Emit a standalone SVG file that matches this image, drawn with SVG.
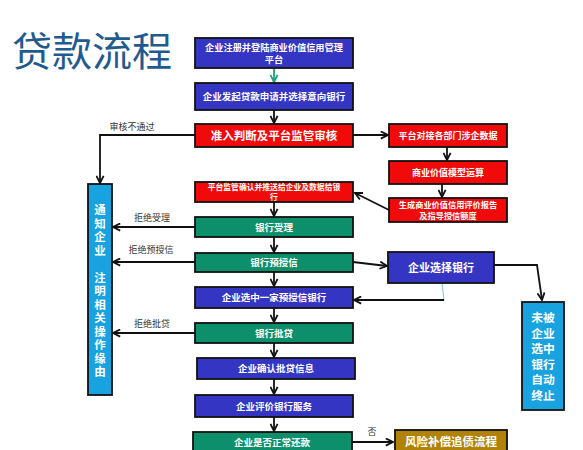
<svg xmlns="http://www.w3.org/2000/svg" width="583" height="450" viewBox="0 0 583 450">
<defs>
<style>
.box{stroke:#111;stroke-width:1.8}
.blue{fill:#3535c4}
.red{fill:#f00a0a}
.green{fill:#0e8f6c}
.sky{fill:#18a3e0}
.brown{fill:#b08208}
.t{font-family:"Noto Sans CJK SC","Noto Sans",sans-serif;font-weight:bold;fill:#fff;text-anchor:middle}
.lbl{font-family:"Noto Sans CJK SC","Noto Sans",sans-serif;fill:#333;font-size:9px;text-anchor:middle}
.ln{stroke:#111;stroke-width:1.8;fill:none}
</style>
<marker id="ah" viewBox="0 0 10 10" refX="9" refY="5" markerWidth="5" markerHeight="5" orient="auto" markerUnits="strokeWidth">
<path d="M1,1 L9,5 L1,9" fill="none" stroke="#111" stroke-width="2"/>
</marker>
<marker id="ahg" viewBox="0 0 10 10" refX="9" refY="5" markerWidth="5" markerHeight="5" orient="auto" markerUnits="strokeWidth">
<path d="M1,1 L9,5 L1,9" fill="none" stroke="#1aa37a" stroke-width="2"/>
</marker>
</defs>
<rect width="583" height="450" fill="#fff"/>
<text x="92" y="66" font-family="Noto Sans CJK SC,sans-serif" font-size="40" fill="#1f5b8f" text-anchor="middle">贷款流程</text>

<g id="connectors">
<line x1="274" y1="68" x2="274" y2="82" stroke="#1aa37a" stroke-width="1.8" marker-end="url(#ahg)"/>
<line class="ln" x1="274" y1="110" x2="274" y2="123" marker-end="url(#ah)"/>
<polyline class="ln" points="195,135 100,135 100,183" marker-end="url(#ah)"/>
<line class="ln" x1="353" y1="135" x2="388" y2="135" marker-end="url(#ah)"/>
<line class="ln" x1="447" y1="147" x2="447" y2="160" marker-end="url(#ah)"/>
<line class="ln" x1="442" y1="184" x2="442" y2="197" marker-end="url(#ah)"/>
<line class="ln" x1="389" y1="210" x2="355" y2="193" marker-end="url(#ah)"/>
<line class="ln" x1="274" y1="202" x2="274" y2="216" marker-end="url(#ah)"/>
<line class="ln" x1="274" y1="237" x2="274" y2="252" marker-end="url(#ah)"/>
<line class="ln" x1="274" y1="272" x2="274" y2="286" marker-end="url(#ah)"/>
<line class="ln" x1="274" y1="308" x2="274" y2="322" marker-end="url(#ah)"/>
<line class="ln" x1="274" y1="343" x2="274" y2="357" marker-end="url(#ah)"/>
<line class="ln" x1="274" y1="379" x2="274" y2="394" marker-end="url(#ah)"/>
<line class="ln" x1="274" y1="417" x2="274" y2="431" marker-end="url(#ah)"/>
<line class="ln" x1="195" y1="227" x2="113" y2="227" marker-end="url(#ah)"/>
<line class="ln" x1="195" y1="262" x2="113" y2="262" marker-end="url(#ah)"/>
<line class="ln" x1="195" y1="333" x2="113" y2="333" marker-end="url(#ah)"/>
<line class="ln" x1="353" y1="262" x2="387" y2="266" marker-end="url(#ah)"/>
<polyline class="ln" points="494,265 537,265 542,300" marker-end="url(#ah)"/>
<line x1="442" y1="283" x2="444" y2="300" stroke="#7cc8c4" stroke-width="1"/>
<line class="ln" x1="444" y1="300" x2="354" y2="300" marker-end="url(#ah)"/>
<line class="ln" x1="352" y1="442" x2="393" y2="442" marker-end="url(#ah)"/>
<text class="lbl" x="132" y="130">审核不通过</text>
<text class="lbl" x="152" y="221">拒绝受理</text>
<text class="lbl" x="151" y="253">拒绝预授信</text>
<text class="lbl" x="152" y="327">拒绝批贷</text>
<text class="lbl" x="372" y="435" font-size="10">否</text>
</g>

<g id="n1"><rect class="box blue" x="195" y="38" width="158" height="30"/>
<text class="t" font-size="9.2"><tspan x="274" y="50.5">企业注册并登陆商业价值信用管理</tspan><tspan x="274" y="63">平台</tspan></text></g>
<g id="n2"><rect class="box blue" x="195" y="83" width="158" height="27"/>
<text class="t" x="274" y="100" font-size="9.5">企业发起贷款申请并选择意向银行</text></g>
<g id="n3"><rect class="box red" x="195" y="124" width="158" height="23"/>
<text class="t" x="274" y="140" font-size="11.5">准入判断及平台监管审核</text></g>
<g id="r1"><rect class="box red" x="389" y="124" width="118" height="23"/>
<text class="t" x="448" y="139" font-size="9">平台对接各部门涉企数据</text></g>
<g id="r2"><rect class="box red" x="389" y="161" width="118" height="23"/>
<text class="t" x="448" y="176" font-size="9">商业价值模型运算</text></g>
<g id="r3"><rect class="box red" x="389" y="198" width="118" height="24"/>
<text class="t" font-size="8.2"><tspan x="448" y="208">生成商业价值信用评价报告</tspan><tspan x="448" y="219">及指导授信额度</tspan></text></g>
<g id="n4"><rect class="box red" x="195" y="182" width="158" height="20"/>
<text class="t" font-size="7.8"><tspan x="274" y="190">平台监管确认并推送给企业及数据给银</tspan><tspan x="274" y="200">行</tspan></text></g>
<g id="n5"><rect class="box green" x="195" y="217" width="158" height="20"/>
<text class="t" x="274" y="230.5" font-size="9.5">银行受理</text></g>
<g id="n6"><rect class="box green" x="195" y="253" width="158" height="19"/>
<text class="t" x="274" y="266" font-size="9.5">银行预授信</text></g>
<g id="n7"><rect class="box blue" x="195" y="287" width="158" height="21"/>
<text class="t" x="274" y="301" font-size="9.5">企业选中一家预授信银行</text></g>
<g id="n8"><rect class="box green" x="195" y="323" width="158" height="20"/>
<text class="t" x="274" y="336.5" font-size="9.5">银行批贷</text></g>
<g id="n9"><rect class="box blue" x="197" y="358" width="158" height="21"/>
<text class="t" x="276" y="372" font-size="9.5">企业确认批贷信息</text></g>
<g id="n10"><rect class="box blue" x="195" y="395" width="158" height="22"/>
<text class="t" x="274" y="409.5" font-size="9.5">企业评价银行服务</text></g>
<g id="n11"><rect class="box green" x="193" y="432" width="159" height="28"/>
<text class="t" x="272" y="446" font-size="9.5">企业是否正常还款</text></g>
<g id="sel"><rect class="box blue" x="388" y="252" width="106" height="31"/>
<text class="t" x="441" y="271.5" font-size="11">企业选择银行</text></g>
<g id="end"><rect class="box sky" x="522" y="302" width="42" height="108"/>
<text class="t" font-size="11.8" font-weight="normal"><tspan x="543" y="322">未被</tspan><tspan x="543" y="337.6">企业</tspan><tspan x="543" y="353.2">选中</tspan><tspan x="543" y="368.8">银行</tspan><tspan x="543" y="384.4">自动</tspan><tspan x="543" y="400">终止</tspan></text></g>
<g id="risk"><rect class="box brown" x="395" y="430" width="112" height="30"/>
<text class="t" x="451" y="446" font-size="11.5">风险补偿追债流程</text></g>
<g id="notify"><rect class="box sky" x="88" y="184" width="24" height="211"/>
<text x="100" y="204" font-family="Noto Sans CJK SC,sans-serif" font-weight="bold" font-size="11.5" fill="#fff" writing-mode="vertical-rl" letter-spacing="2">通知企业　注明相关操作缘由</text></g>
</svg>
